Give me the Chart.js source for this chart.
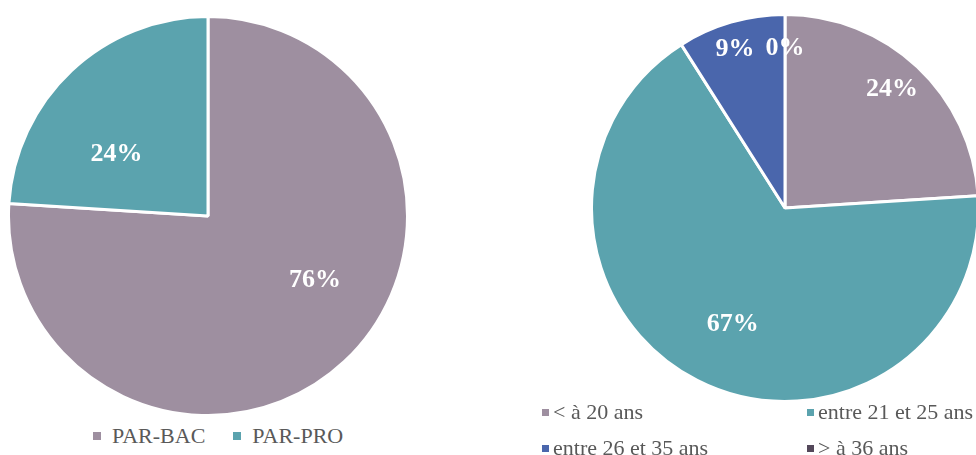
<!DOCTYPE html>
<html>
<head>
<meta charset="utf-8">
<script src="https://cdn.jsdelivr.net/npm/chart.js@4"></script>
<style>
  html, body { margin: 0; padding: 0; background: #fff; width: 976px; height: 455px; overflow: hidden; }
  .pie { position: absolute; }
  .legend { position: absolute; font-family: "Liberation Serif", "Times New Roman", serif; font-size: 22px; color: #595959; line-height: 24px; }
  .legend .item { display: flex; align-items: center; white-space: nowrap; }
  .legend .box { display: inline-block; flex: none; }
  #legendDiplome { left: 93px; top: 424px; display: flex; }
  #legendDiplome .box { width: 8px; height: 8px; margin-right: 11px; }
  #legendDiplome .item { margin-right: 28px; }
  #legendAge { left: 542px; top: 400px; display: grid; grid-template-columns: 265px auto; row-gap: 12px; }
  #legendAge .box { width: 7px; height: 7px; margin-right: 4px; }
</style>
</head>
<body>
<canvas id="pieDiplome" class="pie" width="402" height="402" style="left:7px;top:15px;width:402px;height:402px"></canvas>
<canvas id="pieAge" class="pie" width="390" height="390" style="left:590px;top:13px;width:390px;height:390px"></canvas>
<div id="legendDiplome" class="legend"></div>
<div id="legendAge" class="legend"></div>
<script>
// left pie: type of bac
const diplomeLabels = ['PAR-BAC', 'PAR-PRO'];
const diplomeValues = [76, 24];
// right pie: age groups
const ageLabels = ['< à 20 ans', 'entre 21 et 25 ans', 'entre 26 et 35 ans', '> à 36 ans'];
const ageValues = [24, 67, 9, 0];

const diplomeColors = ['#9e8fa0', '#5ba3ae'];
const ageColors = ['#9e8fa0', '#5ba3ae', '#4a66ac', '#54485a'];

// where each percentage sits: [angle in degrees clockwise from 12 o'clock, fraction of radius]
const diplomeLabelPos = [[120, 0.62], [305, 0.56]];
const ageLabelPos = [[41.5, 0.835], [204.5, 0.65], [342.7, 0.87], [0, 0.835]];

const sliceLabels = {
  id: 'sliceLabels',
  afterDatasetsDraw(chart, args, opts) {
    const ctx = chart.ctx;
    const meta = chart.getDatasetMeta(0);
    const values = chart.data.datasets[0].data;
    ctx.save();
    ctx.fillStyle = '#fff';
    ctx.font = 'bold 26px "Liberation Serif", "Times New Roman", serif';
    ctx.textAlign = 'center';
    ctx.textBaseline = 'alphabetic';
    meta.data.forEach((arc, i) => {
      const [deg, frac] = opts.placement[i];
      const a = deg * Math.PI / 180;
      const r = arc.outerRadius * frac;
      const x = arc.x + r * Math.sin(a);
      const y = arc.y - r * Math.cos(a);
      ctx.fillText(values[i] + '%', x, y + 26 * 0.34);
    });
    ctx.restore();
  }
};

function makePie(id, labels, values, colors, placement) {
  const ctx = document.getElementById(id).getContext('2d');
  return new Chart(ctx, {
    type: 'pie',
    data: {
      labels: labels,
      datasets: [{
        data: values,
        backgroundColor: colors,
        borderColor: '#ffffff',
        borderWidth: 3,
        hoverOffset: 0,
      }],
    },
    options: {
      responsive: false,
      animation: false,
      events: [],
      layout: { padding: 0 },
      plugins: {
        legend: { display: false },
        tooltip: { enabled: false },
        sliceLabels: { placement: placement },
      },
    },
    plugins: [sliceLabels],
  });
}

function makeLegend(id, labels, colors) {
  const el = document.getElementById(id);
  labels.forEach((label, i) => {
    const item = document.createElement('div');
    item.className = 'item';
    const box = document.createElement('span');
    box.className = 'box';
    box.style.background = colors[i];
    const text = document.createElement('span');
    text.textContent = label;
    item.appendChild(box);
    item.appendChild(text);
    el.appendChild(item);
  });
}

makePie('pieDiplome', diplomeLabels, diplomeValues, diplomeColors, diplomeLabelPos);
makePie('pieAge', ageLabels, ageValues, ageColors, ageLabelPos);
makeLegend('legendDiplome', diplomeLabels, diplomeColors);
makeLegend('legendAge', ageLabels, ageColors);
</script>
</body>
</html>
